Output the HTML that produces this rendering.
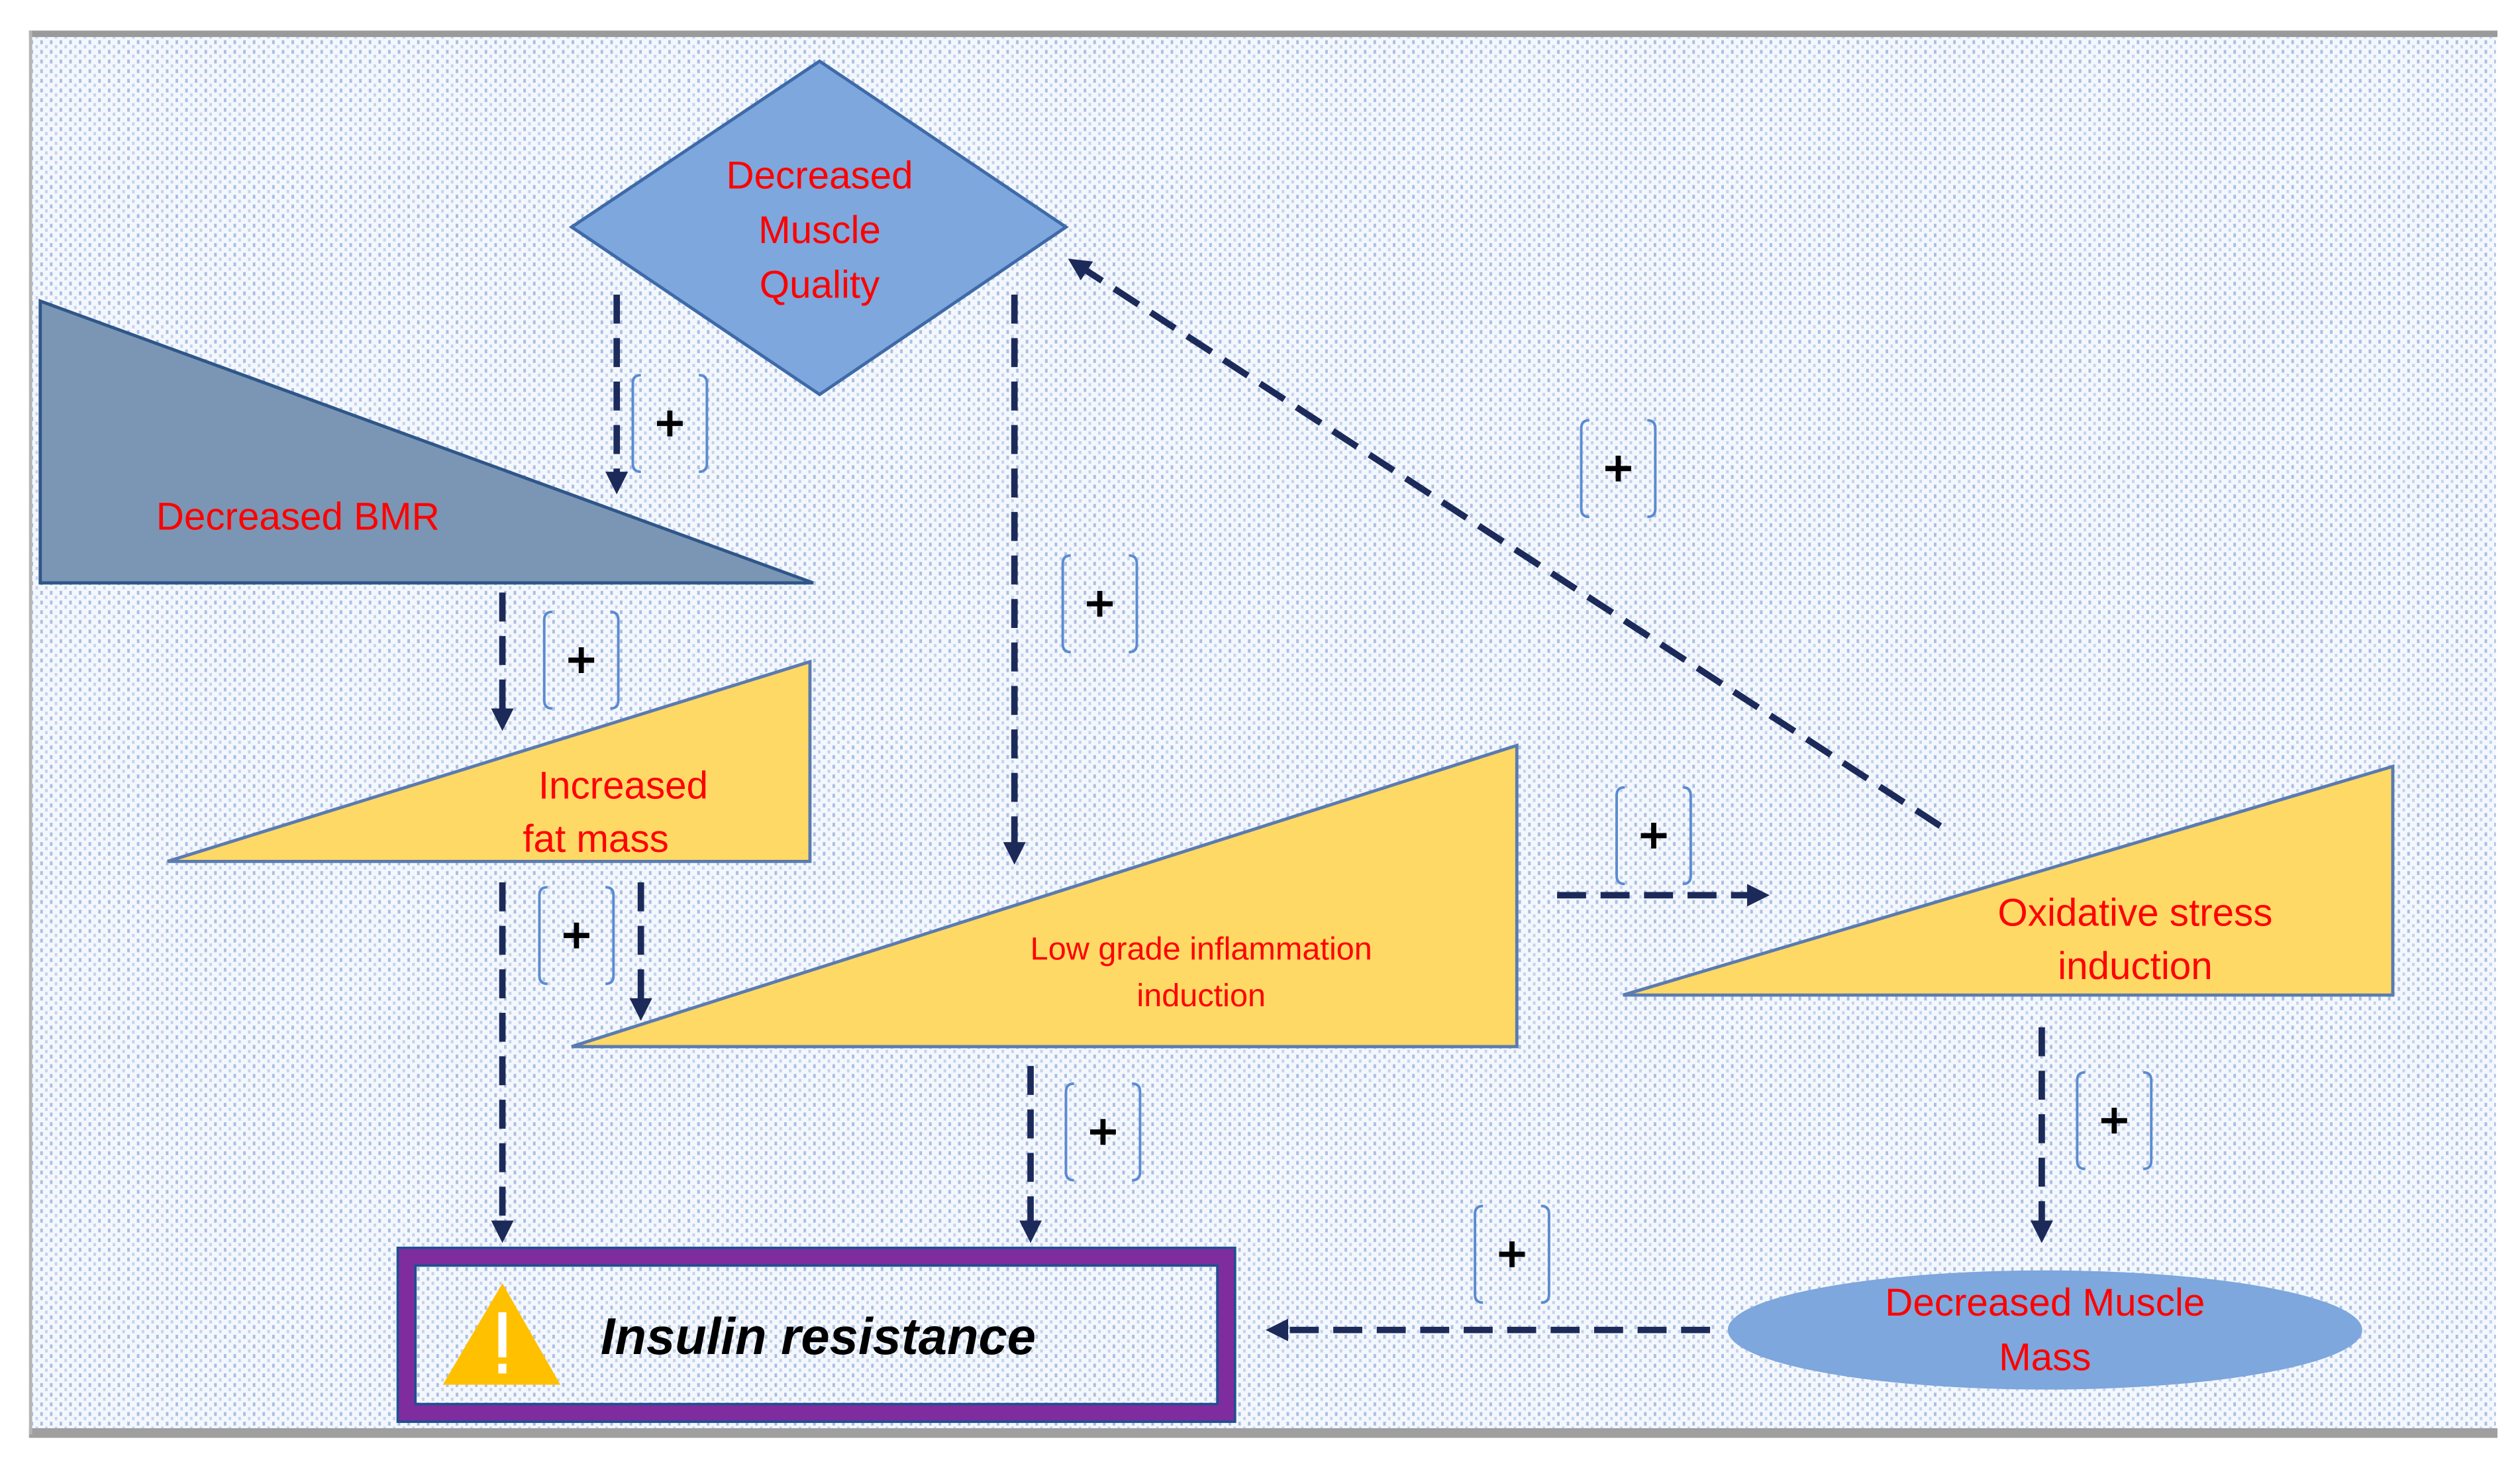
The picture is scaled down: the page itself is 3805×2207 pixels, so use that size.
<!DOCTYPE html>
<html><head><meta charset="utf-8"><style>
html,body{margin:0;padding:0;background:#fff;}
svg{display:block;}
</style></head><body>
<svg width="3805" height="2207" viewBox="0 0 1565 908" preserveAspectRatio="none" xmlns="http://www.w3.org/2000/svg" font-family="Liberation Sans, sans-serif">
<defs>
<pattern id="dots" width="6" height="6" patternUnits="userSpaceOnUse">
<rect width="6" height="6" fill="#f4f7fc"/>
<rect x="1" y="1" width="1.6" height="2.4" fill="#a9bfe3"/>
<rect x="4" y="4" width="1.6" height="2.4" fill="#c3d3ee"/>
</pattern>
<marker id="ah" markerWidth="3.5" markerHeight="3.5" refX="1.5" refY="1.75" orient="auto" markerUnits="strokeWidth">
<path d="M0,0 L3.5,1.75 L0,3.5 Z" fill="#1c2a5a"/>
</marker>
<g id="br">
<path d="M-18,-30 q-5,0 -5,5 v50 q0,5 5,5" fill="none" stroke="#5b8bd0" stroke-width="1.6"/>
<path d="M18,-30 q5,0 5,5 v50 q0,5 -5,5" fill="none" stroke="#5b8bd0" stroke-width="1.6"/>
<path d="M-8,0 h16 M0,-8 v16" stroke="#000" stroke-width="3.2"/>
</g>
</defs>
<rect width="1565" height="908" fill="#fff"/>
<rect x="19" y="22" width="1531" height="867" fill="url(#dots)"/>
<rect x="18" y="19" width="1533" height="4" fill="#9a9a9a"/>
<rect x="18" y="887" width="1533" height="6" fill="#9f9f9f"/>
<rect x="18" y="19" width="2" height="872" fill="#b5b5b5"/>

<polygon points="25,187 25,362 505,362" fill="#7a96b4" stroke="#2f5689" stroke-width="2"/>
<polygon points="509,38 662,141 509,245 355,141" fill="#7da7dd" stroke="#3e6aa8" stroke-width="2"/>
<polygon points="104,535 503,535 503,411" fill="#ffd966" stroke="#5b7bb0" stroke-width="2"/>
<polygon points="355,650 942,650 942,463" fill="#ffd966" stroke="#5b7bb0" stroke-width="2"/>
<polygon points="1008,618 1486,618 1486,476" fill="#ffd966" stroke="#5b7bb0" stroke-width="2"/>
<ellipse cx="1270" cy="826" rx="197" ry="37" fill="#7da7dd"/>

<g fill="#ff0000" font-size="24" text-anchor="middle">
<text x="509" y="117">Decreased</text>
<text x="509" y="151">Muscle</text>
<text x="509" y="185">Quality</text>
<text x="185" y="329">Decreased BMR</text>
<text x="387" y="496">Increased</text>
<text x="370" y="529">fat mass</text>
<text x="746" y="596" font-size="20">Low grade inflammation</text>
<text x="746" y="625" font-size="20">induction</text>
<text x="1326" y="575">Oxidative stress</text>
<text x="1326" y="608">induction</text>
<text x="1270" y="817">Decreased Muscle</text>
<text x="1270" y="851">Mass</text>
</g>

<rect x="252" y="780" width="510" height="98" fill="none" stroke="#7f2c9f" stroke-width="11"/>
<rect x="247" y="775" width="520" height="108" fill="none" stroke="#1f4f8f" stroke-width="1.5"/>
<rect x="258" y="786" width="498" height="86" fill="none" stroke="#1f4f8f" stroke-width="1.5"/>
<polygon points="312,797 348,860 275,860" fill="#ffc000"/>
<rect x="309.5" y="815" width="5" height="28" fill="#fff"/>
<rect x="309.5" y="847" width="5" height="6" fill="#fff"/>
<text x="373" y="841" font-size="32" font-weight="bold" font-style="italic" fill="#000">Insulin resistance</text>

<g stroke="#1c2a5a" stroke-width="4" stroke-dasharray="18,9" fill="none" marker-end="url(#ah)">
<line x1="383" y1="183" x2="383" y2="299"/>
<line x1="630" y1="183" x2="630" y2="529"/>
<line x1="1205" y1="513" x2="670" y2="165"/>
<line x1="312" y1="368" x2="312" y2="446"/>
<line x1="312" y1="548" x2="312" y2="764"/>
<line x1="398" y1="548" x2="398" y2="626"/>
<line x1="640" y1="662" x2="640" y2="764"/>
<line x1="967" y1="556" x2="1091" y2="556"/>
<line x1="1268" y1="638" x2="1268" y2="764"/>
<line x1="1062" y1="826" x2="794" y2="826"/>
</g>

<use href="#br" x="416" y="263"/>
<use href="#br" x="361" y="410"/>
<use href="#br" x="358" y="581"/>
<use href="#br" x="683" y="375"/>
<use href="#br" x="1005" y="291"/>
<use href="#br" x="1027" y="519"/>
<use href="#br" x="685" y="703"/>
<use href="#br" x="1313" y="696"/>
<use href="#br" x="939" y="779"/>
</svg>
</body></html>
